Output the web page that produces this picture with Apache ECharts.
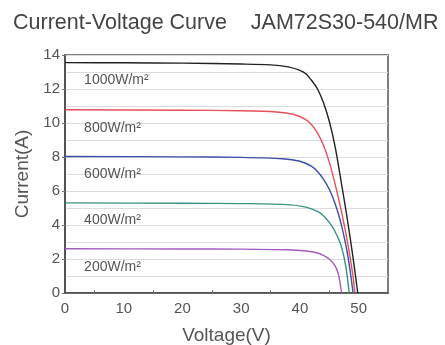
<!DOCTYPE html>
<html>
<head>
<meta charset="utf-8">
<script src="https://cdn.jsdelivr.net/npm/echarts@6/dist/echarts.min.js"></script>
<style>
  html, body { margin: 0; padding: 0; background: #fff; }
  #chart { width: 445px; height: 345px; }
</style>
</head>
<body>
<div id="chart"></div>
<script>
// irradiance curves: [voltage, current]
var irradiance = ["1000W/m²", "800W/m²", "600W/m²", "400W/m²", "200W/m²"];
var curve1000 = [[0, 13.55], [10, 13.54], [20, 13.52], [30, 13.47], [35, 13.42], [38, 13.3], [40, 13.1], [41, 12.9], [42, 12.5], [43, 12.0], [44, 11.2], [45, 10.1], [46, 8.6], [47, 6.6], [48, 4.5], [49, 2.2], [49.85, 0]];
var curve800 = [[0, 10.78], [20, 10.75], [30, 10.72], [36, 10.65], [39, 10.5], [41, 10.2], [42, 9.9], [43, 9.4], [44, 8.7], [45, 7.7], [46, 6.4], [47, 4.9], [48, 3.2], [49, 1.1], [49.35, 0]];
var curve600 = [[0, 8.03], [20, 8.01], [30, 7.98], [37, 7.9], [40, 7.75], [42, 7.45], [43, 7.15], [44, 6.7], [45, 6.1], [46, 5.25], [47, 4.1], [48, 2.5], [48.6, 1.2], [49.05, 0]];
var curve400 = [[0, 5.3], [20, 5.28], [30, 5.26], [38, 5.2], [41, 5.05], [43, 4.8], [44, 4.55], [45, 4.15], [46, 3.6], [47, 2.8], [47.8, 1.6], [48.4, 0]];
var curve200 = [[0, 2.6], [20, 2.59], [30, 2.58], [38, 2.54], [41, 2.47], [43, 2.35], [44, 2.22], [45, 2.0], [46, 1.6], [46.6, 1.05], [47.1, 0]];
var labelY = [12.5, 9.7, 7.0, 4.3, 1.5];
var colors = ["#222222", "#e8505a", "#3b4fa8", "#3a8f88", "#a25bbf"];

var chartDom = document.getElementById("chart");
var myChart = echarts.init(chartDom);
var curves = [curve1000, curve800, curve600, curve400, curve200];

var series = curves.map(function (c, i) {
  return {
    name: irradiance[i],
    type: "line",
    data: c,
    smooth: 0.3,
    showSymbol: false,
    lineStyle: { color: colors[i], width: 1.4 },
    markPoint: {
      symbol: "circle",
      symbolSize: 0,
      data: [{ coord: [2.4, labelY[i]], value: irradiance[i] }],
      label: {
        show: true,
        position: "right",
        formatter: irradiance[i],
        color: "#555",
        fontSize: 14,
        fontFamily: "Liberation Sans",
      },
    },
  };
});

var option = {
  animation: false,
  title: {
    text: "Current-Voltage Curve    JAM72S30-540/MR",
    left: 8,
    top: 7,
    textStyle: {
      color: "#444",
      fontSize: 21.5,
      fontWeight: "normal",
      fontFamily: "Liberation Sans",
    },
  },
  grid: {
    left: 65,
    right: 57,
    top: 55,
    bottom: 52,
    outerBoundsMode: "none",
    containLabel: false,
    show: true,
    borderColor: "#555",
    borderWidth: 1.5,
  },
  xAxis: {
    type: "value",
    min: 0,
    max: 55,
    interval: 10,
    name: "Voltage(V)",
    nameLocation: "middle",
    nameGap: 33,
    nameTextStyle: { color: "#555", fontSize: 19, fontFamily: "Liberation Sans" },
    axisLine: { show: true, lineStyle: { color: "#444", width: 1.5 } },
    axisTick: { show: false },
    minorTick: { show: true, splitNumber: 2, length: -3, lineStyle: { color: "#777" } },
    axisLabel: {
      color: "#555",
      fontSize: 15,
      fontFamily: "Liberation Sans",
      margin: 8,
      formatter: function (v) { return v <= 50 ? v : ""; },
    },
    splitLine: { show: false },
  },
  yAxis: {
    type: "value",
    min: 0,
    max: 14,
    interval: 2,
    name: "Current(A)",
    nameLocation: "middle",
    nameGap: 28,
    nameTextStyle: { color: "#555", fontSize: 19, fontFamily: "Liberation Sans" },
    axisLine: { show: true, lineStyle: { color: "#444", width: 1.5 } },
    axisTick: { show: true, length: 3, lineStyle: { color: "#777" } },
    axisLabel: { color: "#555", fontSize: 15, fontFamily: "Liberation Sans", margin: 5 },
    splitLine: { show: true, lineStyle: { color: "#dcdcdc" } },
    minorTick: { show: false, splitNumber: 2 },
    minorSplitLine: { show: true, lineStyle: { color: "#dcdcdc" } },
  },
  series: series,
};

option && myChart.setOption(option);
</script>
</body>
</html>
